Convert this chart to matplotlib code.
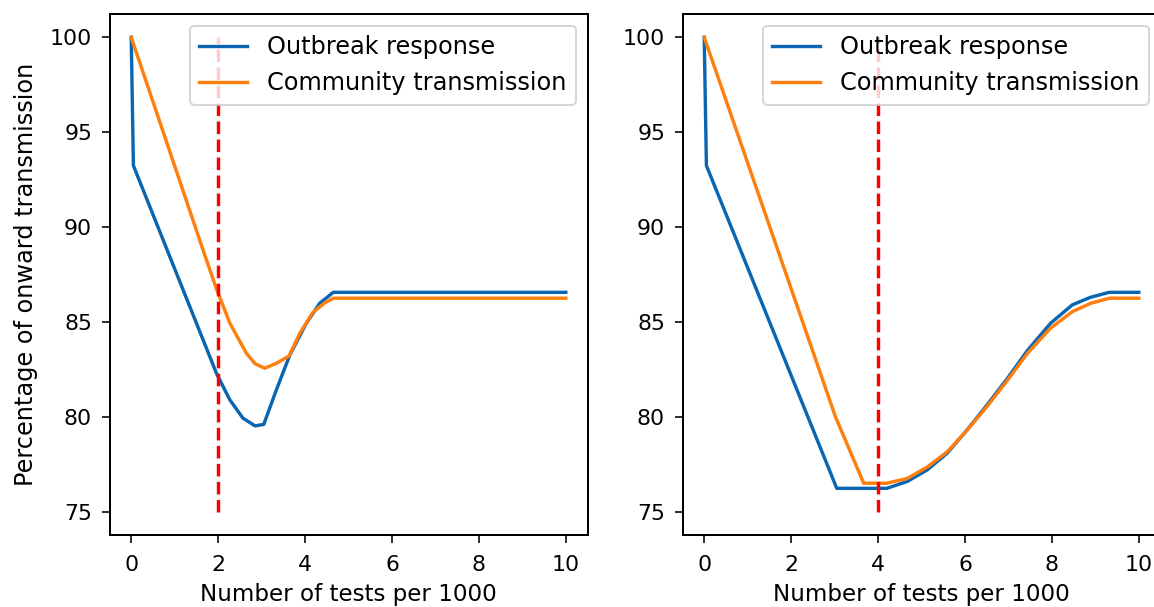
import matplotlib
matplotlib.use('Agg')
import matplotlib.pyplot as plt

# left panel: outbreak response / community transmission
left_x_outbreak = [0, 0.05, 1.7, 1.96, 2.27, 2.57, 2.85, 3.05, 3.34, 3.65, 4.03, 4.34, 4.65, 10]
left_y_outbreak = [100, 93.24, 83.79, 82.3, 80.89, 79.93, 79.52, 79.6, 81.42, 83.26, 84.93, 85.99, 86.56, 86.56]
left_x_community = [0, 1.7, 1.96, 2.27, 2.65, 2.85, 3.07, 3.34, 3.63, 3.88, 4.18, 4.45, 4.65, 10]
left_y_community = [100, 88.47, 86.75, 84.93, 83.35, 82.8, 82.56, 82.82, 83.2, 84.4, 85.5, 86.0, 86.25, 86.25]

# right panel
right_x_outbreak = [0, 0.05, 3.05, 4.2, 4.67, 5.13, 5.59, 6.05, 6.51, 6.97, 7.44, 7.97, 8.47, 8.89, 9.32, 10]
right_y_outbreak = [100, 93.24, 76.23, 76.23, 76.59, 77.2, 78.08, 79.31, 80.63, 82.0, 83.5, 84.93, 85.9, 86.3, 86.56, 86.56]
right_x_community = [0, 3.02, 3.67, 4.2, 4.67, 5.13, 5.59, 6.05, 6.51, 6.97, 7.44, 7.97, 8.47, 8.89, 9.32, 10]
right_y_community = [100, 80.0, 76.5, 76.5, 76.75, 77.35, 78.15, 79.3, 80.55, 81.9, 83.35, 84.67, 85.54, 85.98, 86.25, 86.25]

threshold_left = 2
threshold_right = 4
vline_range = (75, 100)

blue = '#0b66b2'
orange = '#ff7f0e'

plt.rcParams['font.size'] = 11.5
plt.rcParams['xtick.labelsize'] = 11
plt.rcParams['ytick.labelsize'] = 11
plt.rcParams['xtick.major.size'] = 4.2
plt.rcParams['ytick.major.size'] = 4.2
plt.rcParams['xtick.major.pad'] = 5.5
plt.rcParams['ytick.major.pad'] = 4.5
plt.rcParams['lines.linewidth'] = 1.7
plt.rcParams['axes.linewidth'] = 1.0

W, H = 1154, 607
fig = plt.figure(figsize=(W/144, H/144), dpi=144)

ax_w = 478/W
ax_h = 521.8/H
ax_b = 1 - 535.4/H
ax1 = fig.add_axes([109.5/W, ax_b, ax_w, ax_h])
ax2 = fig.add_axes([682.5/W, ax_b, ax_w, ax_h])

ax1.plot(left_x_outbreak, left_y_outbreak, color=blue, label='Outbreak response')
ax1.plot(left_x_community, left_y_community, color=orange, label='Community transmission')
ax1.vlines(threshold_left, *vline_range, colors='r', linestyles='--', linewidth=1.7)
ax1.set_ylabel('Percentage of onward transmission', fontsize=12, labelpad=6)

ax2.plot(right_x_outbreak, right_y_outbreak, color=blue, label='Outbreak response')
ax2.plot(right_x_community, right_y_community, color=orange, label='Community transmission')
ax2.vlines(threshold_right, *vline_range, colors='r', linestyles='--', linewidth=1.7)

for ax in (ax1, ax2):
    ax.set_xlabel('Number of tests per 1000', labelpad=4)
    ax.set_xticks([0, 2, 4, 6, 8, 10])
    ax.set_yticks([75, 80, 85, 90, 95, 100])
    ax.legend(loc='upper right', fontsize=12)

fig.savefig('out.png', dpi=144)
